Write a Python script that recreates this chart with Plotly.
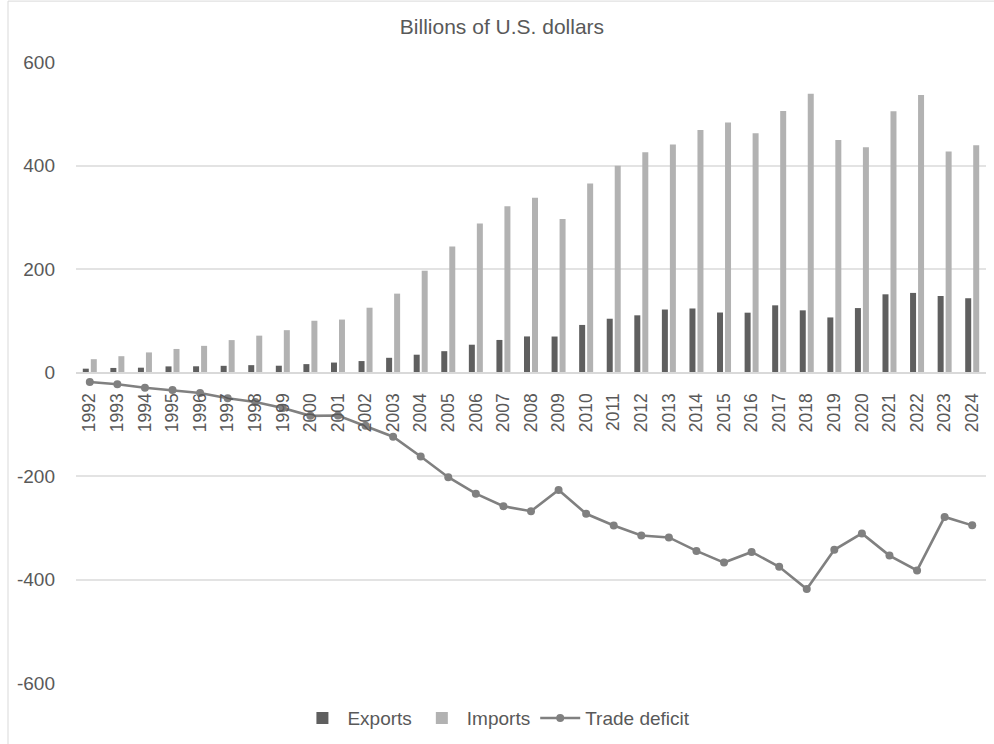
import plotly.graph_objects as go

years = [str(y) for y in range(1992, 2025)]
exports = [7.4, 8.8, 9.3, 11.8, 12.0, 12.9, 14.2, 13.1, 16.2, 19.2, 22.1, 28.4, 34.4, 41.2,
           53.7, 62.9, 69.7, 69.5, 91.9, 103.9, 110.5, 121.7, 123.7, 115.9, 115.6, 129.8,
           120.1, 106.4, 124.5, 151.1, 153.8, 147.8, 143.5]
imports = [25.7, 31.5, 38.8, 45.5, 51.5, 62.6, 71.2, 81.8, 100.0, 102.3, 125.2, 152.4,
           196.7, 243.5, 287.8, 321.4, 337.8, 296.4, 365.0, 399.4, 425.6, 440.4, 468.5,
           483.2, 462.4, 505.2, 538.5, 449.1, 435.4, 504.9, 536.3, 426.9, 438.9]
deficit = [-18.3, -22.8, -29.5, -33.8, -39.5, -49.7, -56.9, -68.7, -83.8, -83.1, -103.1,
           -124.1, -162.3, -202.3, -234.1, -258.5, -268.0, -226.9, -273.0, -295.5, -315.1,
           -318.7, -344.8, -367.3, -346.8, -375.4, -418.4, -342.6, -310.9, -353.8, -382.5,
           -279.1, -295.4]
y_ticks = [-600, -400, -200, 0, 200, 400, 600]
y_labels = ["-600", "-400", "-200", "0", "200", "400", "600"]

W, H = 994, 744
ML, MR, MT, MB = 76, 8, 62, 60
FONT = "Liberation Sans, Arial, sans-serif"
TXT = "#595959"

fig = go.Figure()
fig.add_trace(go.Bar(x=years, y=exports, name="Exports",
                     marker=dict(color="#5f5f5f", line=dict(width=0))))
fig.add_trace(go.Bar(x=years, y=imports, name="Imports",
                     marker=dict(color="#b2b2b2", line=dict(width=0))))
fig.add_trace(go.Scatter(x=years, y=deficit, name="Trade deficit", mode="lines+markers",
                         line=dict(color="#808080", width=2.6),
                         marker=dict(color="#808080", size=8)))

pw = W - ML - MR
ph = H - MT - MB
# chart border (left and top edges visible)
bx = (8 - ML) / pw
by = 1 + (MT - 1) / ph
fig.add_shape(type="line", xref="paper", yref="paper", x0=bx, x1=bx, y0=-2, y1=by,
              line=dict(color="#d9d9d9", width=1))
fig.add_shape(type="line", xref="paper", yref="paper", x0=bx, x1=1 + MR / pw, y0=by, y1=by,
              line=dict(color="#d9d9d9", width=1))

fig.update_layout(
    width=W, height=H,
    margin=dict(l=ML, r=MR, t=MT, b=MB),
    paper_bgcolor="white", plot_bgcolor="white",
    font=dict(family=FONT, size=19, color=TXT),
    title=dict(text="Billions of U.S. dollars", x=0.505, xref="container", xanchor="center",
               y=1 - 27 / H, yref="container", yanchor="middle",
               font=dict(size=21, color=TXT)),
    barmode="group", bargap=0.42, bargroupgap=0.25,
    legend=dict(orientation="h", x=0.462, xanchor="center", y=-0.055, yanchor="middle",
                font=dict(size=19, color=TXT), itemwidth=40, traceorder="normal"),
    xaxis=dict(type="category", range=[-0.5, len(years) - 0.5], anchor="free",
               position=0.5, showline=True,
               linecolor="#d9d9d9", linewidth=1.5, showgrid=False, tickangle=-90,
               ticks="outside", ticklen=13, tickcolor="rgba(0,0,0,0)",
               tickfont=dict(size=17.5, color=TXT)),
    yaxis=dict(range=[-600, 600], tickvals=y_ticks, ticktext=y_labels, showgrid=True,
               gridcolor="#e3e3e3", gridwidth=1.5, zeroline=False, showline=False, ticks="",
               ticklabelstandoff=20, tickfont=dict(size=19, color=TXT)),
)

fig.write_html("out.html")
